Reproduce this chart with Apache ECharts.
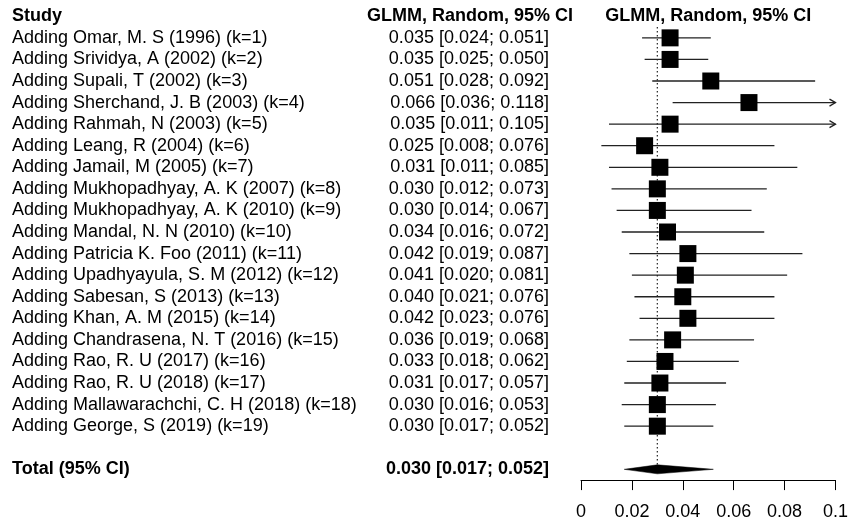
<!DOCTYPE html>
<html>
<head>
<meta charset="utf-8">
<script src="https://cdn.jsdelivr.net/npm/echarts@6/dist/echarts.min.js"></script>
<style>
  html, body { margin: 0; padding: 0; background: #fff; }
  #main { width: 859px; height: 522px; }
</style>
</head>
<body>
<div id="main"></div>
<script>
var studyLabels = [
  'Adding Omar, M. S (1996) (k=1)',
  'Adding Srividya, A (2002) (k=2)',
  'Adding Supali, T (2002) (k=3)',
  'Adding Sherchand, J. B (2003) (k=4)',
  'Adding Rahmah, N (2003) (k=5)',
  'Adding Leang, R (2004) (k=6)',
  'Adding Jamail, M (2005) (k=7)',
  'Adding Mukhopadhyay, A. K (2007) (k=8)',
  'Adding Mukhopadhyay, A. K (2010) (k=9)',
  'Adding Mandal, N. N (2010) (k=10)',
  'Adding Patricia K. Foo (2011) (k=11)',
  'Adding Upadhyayula, S. M (2012) (k=12)',
  'Adding Sabesan, S (2013) (k=13)',
  'Adding Khan, A. M (2015) (k=14)',
  'Adding Chandrasena, N. T (2016) (k=15)',
  'Adding Rao, R. U (2017) (k=16)',
  'Adding Rao, R. U (2018) (k=17)',
  'Adding Mallawarachchi, C. H (2018) (k=18)',
  'Adding George, S (2019) (k=19)'
];
var est   = [0.035, 0.035, 0.051, 0.066, 0.035, 0.025, 0.031, 0.030, 0.030, 0.034, 0.042, 0.041, 0.040, 0.042, 0.036, 0.033, 0.031, 0.030, 0.030];
var lower = [0.024, 0.025, 0.028, 0.036, 0.011, 0.008, 0.011, 0.012, 0.014, 0.016, 0.019, 0.020, 0.021, 0.023, 0.019, 0.018, 0.017, 0.016, 0.017];
var upper = [0.051, 0.050, 0.092, 0.118, 0.105, 0.076, 0.085, 0.073, 0.067, 0.072, 0.087, 0.081, 0.076, 0.076, 0.068, 0.062, 0.057, 0.053, 0.052];
var totalEst = 0.030, totalLower = 0.017, totalUpper = 0.052;
var totalLabel = 'Total (95% CI)';
var colTitle = 'GLMM, Random, 95% CI';
var xTicks = ['0', '0.02', '0.04', '0.06', '0.08', '0.1'];
var xMin = 0, xMax = 0.1, xStep = 0.02;

var FONT = '"Liberation Sans", Arial, Helvetica, sans-serif';

function fmt(v) { return v.toFixed(3); }
function ci(e, l, u) { return fmt(e) + ' [' + fmt(l) + '; ' + fmt(u) + ']'; }

// rows: header, studies, blank, total
var rowLabels = ['Study'].concat(studyLabels, [''], [totalLabel]);
var estLabels = [''].concat(est.map(function (e, i) { return ci(e, lower[i], upper[i]); }), [''], [ci(totalEst, totalLower, totalUpper)]);
var totalRow = rowLabels.length - 1;

var studyData = est.map(function (e, i) { return [lower[i], e, upper[i], i + 1]; });

var myChart = echarts.init(document.getElementById('main'));
myChart.setOption({
  animation: false,
  backgroundColor: '#fff',
  grid: { left: 581, right: 23.5, top: 5.5, bottom: 41.9, outerBoundsMode: 'none', containLabel: false },
  xAxis: {
    type: 'value',
    min: xMin, max: xMax, interval: xStep,
    splitLine: { show: false },
    axisLine: { show: true, onZero: false, lineStyle: { color: '#000', width: 1 } },
    axisTick: { show: true, length: 10, lineStyle: { color: '#000', width: 1 } },
    axisLabel: {
      margin: 23, fontSize: 18, color: '#000', fontFamily: FONT,
      formatter: function (v) { return xTicks[Math.round((v - xMin) / xStep)]; }
    }
  },
  yAxis: [
    {
      type: 'category', inverse: true, data: rowLabels,
      axisLine: { show: false }, axisTick: { show: false }, splitLine: { show: false },
      axisLabel: {
        interval: 0, align: 'left', margin: 569, fontSize: 18, color: '#000', fontFamily: FONT,
        formatter: function (v, i) { return (i === 0 || i === totalRow) ? '{b|' + v + '}' : v; },
        rich: { b: { fontWeight: 'bold', fontSize: 18, color: '#000', fontFamily: FONT } }
      }
    },
    {
      type: 'category', inverse: true, data: estLabels, position: 'left', offset: 0,
      axisLine: { show: false }, axisTick: { show: false }, splitLine: { show: false },
      axisLabel: {
        interval: 0, align: 'right', margin: 32, fontSize: 18, color: '#000', fontFamily: FONT,
        formatter: function (v, i) { return i === totalRow ? '{b|' + v + '}' : v; },
        rich: { b: { fontWeight: 'bold', fontSize: 18, color: '#000', fontFamily: FONT } }
      }
    }
  ],
  series: [
    {
      // column titles
      type: 'custom', clip: false, silent: true,
      data: [[xMin, 0]],
      renderItem: function (params, api) {
        var p = api.coord([(xMin + xMax) / 2, 0]);
        var p0 = api.coord([xMin, 0]);
        var st = { fill: '#000', fontSize: 18, fontWeight: 'bold', fontFamily: FONT, align: 'center', verticalAlign: 'middle' };
        return {
          type: 'group',
          children: [
            { type: 'text', x: p[0], y: p[1], style: Object.assign({ text: colTitle }, st) },
            { type: 'text', x: p0[0] - 111, y: p0[1], style: Object.assign({ text: colTitle }, st) }
          ]
        };
      }
    },
    {
      // pooled estimate reference line
      type: 'custom', clip: false, silent: true,
      data: [[totalEst, totalRow]],
      renderItem: function (params, api) {
        var band = api.size([0, 1])[1];
        var top = api.coord([api.value(0), 0]);
        var bot = api.coord([api.value(0), api.value(1)]);
        return {
          type: 'line',
          shape: { x1: top[0], y1: top[1] + band / 2, x2: bot[0], y2: bot[1] - 4.5 },
          style: { stroke: '#333', lineWidth: 1.3, lineDash: [1.5, 2.5] }
        };
      }
    },
    {
      // study CIs and squares
      type: 'custom', clip: false, silent: true,
      data: studyData,
      renderItem: function (params, api) {
        var row = api.value(3);
        var hi = api.value(2);
        var pL = api.coord([Math.max(api.value(0), xMin), row]);
        var pE = api.coord([api.value(1), row]);
        var pH = api.coord([Math.min(hi, xMax), row]);
        var kids = [
          { type: 'line', shape: { x1: pL[0], y1: pL[1], x2: pH[0], y2: pH[1] }, style: { stroke: '#222', lineWidth: 1.3 } }
        ];
        if (hi > xMax) {
          kids.push({
            type: 'polyline',
            shape: { points: [[pH[0] - 6, pH[1] - 3.5], [pH[0], pH[1]], [pH[0] - 6, pH[1] + 3.5]] },
            style: { stroke: '#222', lineWidth: 1.3, fill: null }
          });
        }
        kids.push({ type: 'rect', shape: { x: pE[0] - 8.5, y: pE[1] - 8.5, width: 17, height: 17 }, style: { fill: '#000' } });
        return { type: 'group', children: kids };
      }
    },
    {
      // pooled diamond
      type: 'custom', clip: false, silent: true,
      data: [[totalLower, totalEst, totalUpper, totalRow]],
      renderItem: function (params, api) {
        var row = api.value(3);
        var a = api.coord([api.value(0), row]);
        var b = api.coord([api.value(1), row]);
        var c = api.coord([api.value(2), row]);
        return {
          type: 'polygon',
          shape: { points: [[a[0], a[1]], [b[0], b[1] - 4.5], [c[0], c[1]], [b[0], b[1] + 4.5]] },
          style: { fill: '#000', stroke: '#000', lineWidth: 0.5 }
        };
      }
    }
  ]
});
</script>
</body>
</html>
